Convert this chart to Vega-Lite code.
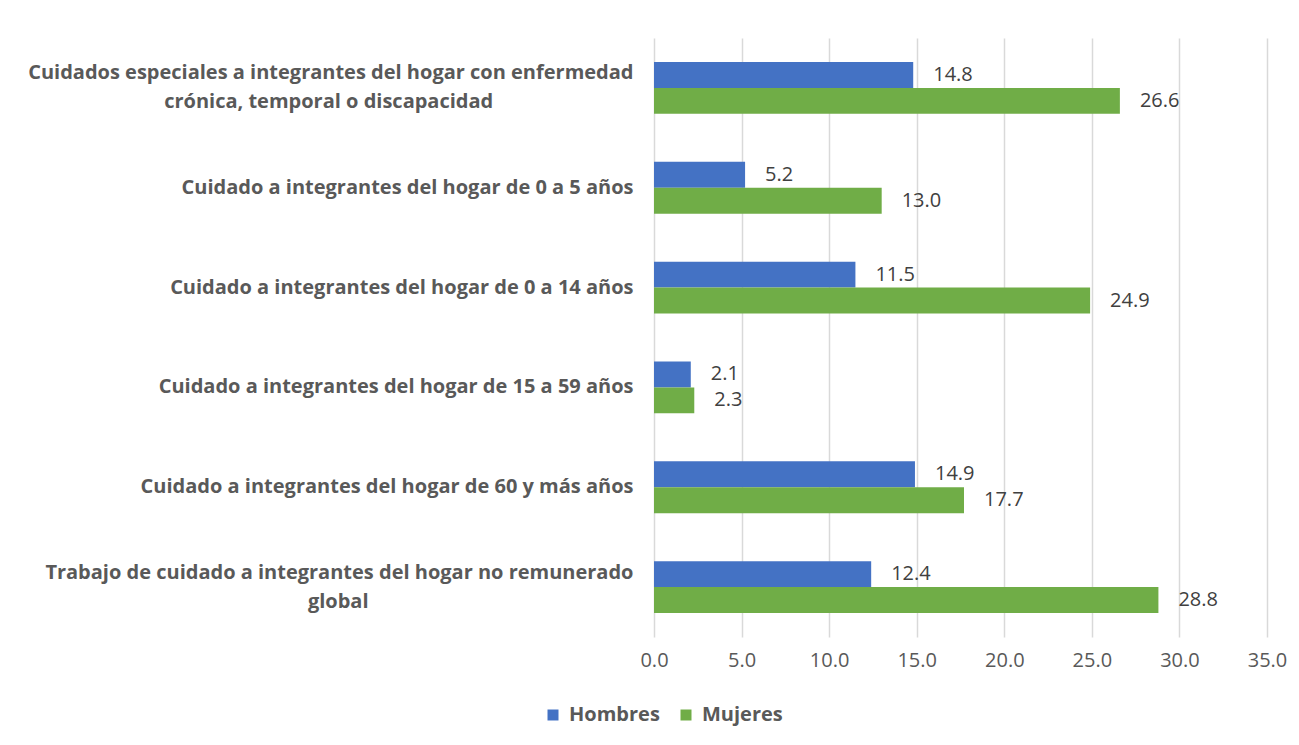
{
  "$schema": "https://vega.github.io/schema/vega-lite/v6.json",
  "width": 613,
  "height": 599,
  "autosize": {"type": "none"},
  "padding": {"left": 654, "top": 38, "right": 32, "bottom": 108},
  "background": "white",
  "config": {"view": {"stroke": null}, "font": "Open Sans"},
  "data": {
    "values": [
      {"categoria": "Cuidados especiales a integrantes del hogar con enfermedad crónica, temporal o discapacidad", "sexo": "Hombres", "valor": 14.8},
      {"categoria": "Cuidados especiales a integrantes del hogar con enfermedad crónica, temporal o discapacidad", "sexo": "Mujeres", "valor": 26.6},
      {"categoria": "Cuidado a integrantes del hogar de 0 a 5 años", "sexo": "Hombres", "valor": 5.2},
      {"categoria": "Cuidado a integrantes del hogar de 0 a 5 años", "sexo": "Mujeres", "valor": 13.0},
      {"categoria": "Cuidado a integrantes del hogar de 0 a 14 años", "sexo": "Hombres", "valor": 11.5},
      {"categoria": "Cuidado a integrantes del hogar de 0 a 14 años", "sexo": "Mujeres", "valor": 24.9},
      {"categoria": "Cuidado a integrantes del hogar de 15 a 59 años", "sexo": "Hombres", "valor": 2.1},
      {"categoria": "Cuidado a integrantes del hogar de 15 a 59 años", "sexo": "Mujeres", "valor": 2.3},
      {"categoria": "Cuidado a integrantes del hogar de 60 y más años", "sexo": "Hombres", "valor": 14.9},
      {"categoria": "Cuidado a integrantes del hogar de 60 y más años", "sexo": "Mujeres", "valor": 17.7},
      {"categoria": "Trabajo de cuidado a integrantes del hogar no remunerado global", "sexo": "Hombres", "valor": 12.4},
      {"categoria": "Trabajo de cuidado a integrantes del hogar no remunerado global", "sexo": "Mujeres", "valor": 28.8}
    ]
  },
  "encoding": {
    "y": {
      "field": "categoria",
      "type": "nominal",
      "sort": null,
      "title": null,
      "scale": {"paddingInner": 0.48, "paddingOuter": 0.24},
      "axis": {
        "domain": false,
        "ticks": false,
        "labelPadding": 21,
        "labelFontSize": 20,
        "labelFontWeight": "bold",
        "labelColor": "#595959",
        "labelLimit": 0,
        "labelLineHeight": 29,
        "labelOffset": {"condition": {"test": "indexof(datum.value, 'Trabajo') === 0 || indexof(datum.value, 'Cuidados especiales') === 0", "value": -14.5}, "value": 0},
        "labelExpr": "indexof(datum.label, 'Trabajo') === 0 ? ['Trabajo de cuidado a integrantes del hogar no remunerado', pad('global', 57, '\u00a0') + '\u200b'] : indexof(datum.label, 'Cuidados especiales') === 0 ? ['Cuidados especiales a integrantes del hogar con enfermedad', pad('crónica, temporal o discapacidad', 59, '\u00a0') + '\u200b'] : datum.label"
      }
    },
    "yOffset": {"field": "sexo", "type": "nominal", "sort": ["Hombres", "Mujeres"], "scale": {"paddingInner": 0}},
    "x": {
      "field": "valor",
      "type": "quantitative",
      "title": null,
      "scale": {"domain": [0, 35], "nice": false},
      "axis": {
        "values": [0, 5, 10, 15, 20, 25, 30, 35],
        "format": ".1f",
        "domain": false,
        "ticks": false,
        "labelFlush": false,
        "labelPadding": 13,
        "labelFontSize": 20,
        "labelColor": "#595959",
        "gridColor": "#d9d9d9",
        "gridWidth": 1.5
      }
    }
  },
  "layer": [
    {
      "mark": {"type": "bar"},
      "encoding": {
        "color": {
          "field": "sexo",
          "type": "nominal",
          "sort": ["Hombres", "Mujeres"],
          "scale": {"domain": ["Hombres", "Mujeres"], "range": ["#4472C4", "#70AD47"]},
          "legend": {
            "title": null,
            "orient": "none",
            "direction": "horizontal",
            "legendX": -111,
            "legendY": 667,
            "symbolType": "square",
            "symbolSize": 121,
            "symbolStrokeWidth": 0,
            "symbolOpacity": 1,
            "labelFontSize": 20,
            "labelFontWeight": "bold",
            "labelColor": "#595959",
            "columnPadding": 16,
            "labelOffset": 6
          }
        }
      }
    },
    {
      "mark": {"type": "text", "align": "left", "baseline": "middle", "dx": 20, "fontSize": 20, "color": "#404040"},
      "encoding": {
        "text": {"field": "valor", "type": "quantitative", "format": ".1f"}
      }
    }
  ]
}
